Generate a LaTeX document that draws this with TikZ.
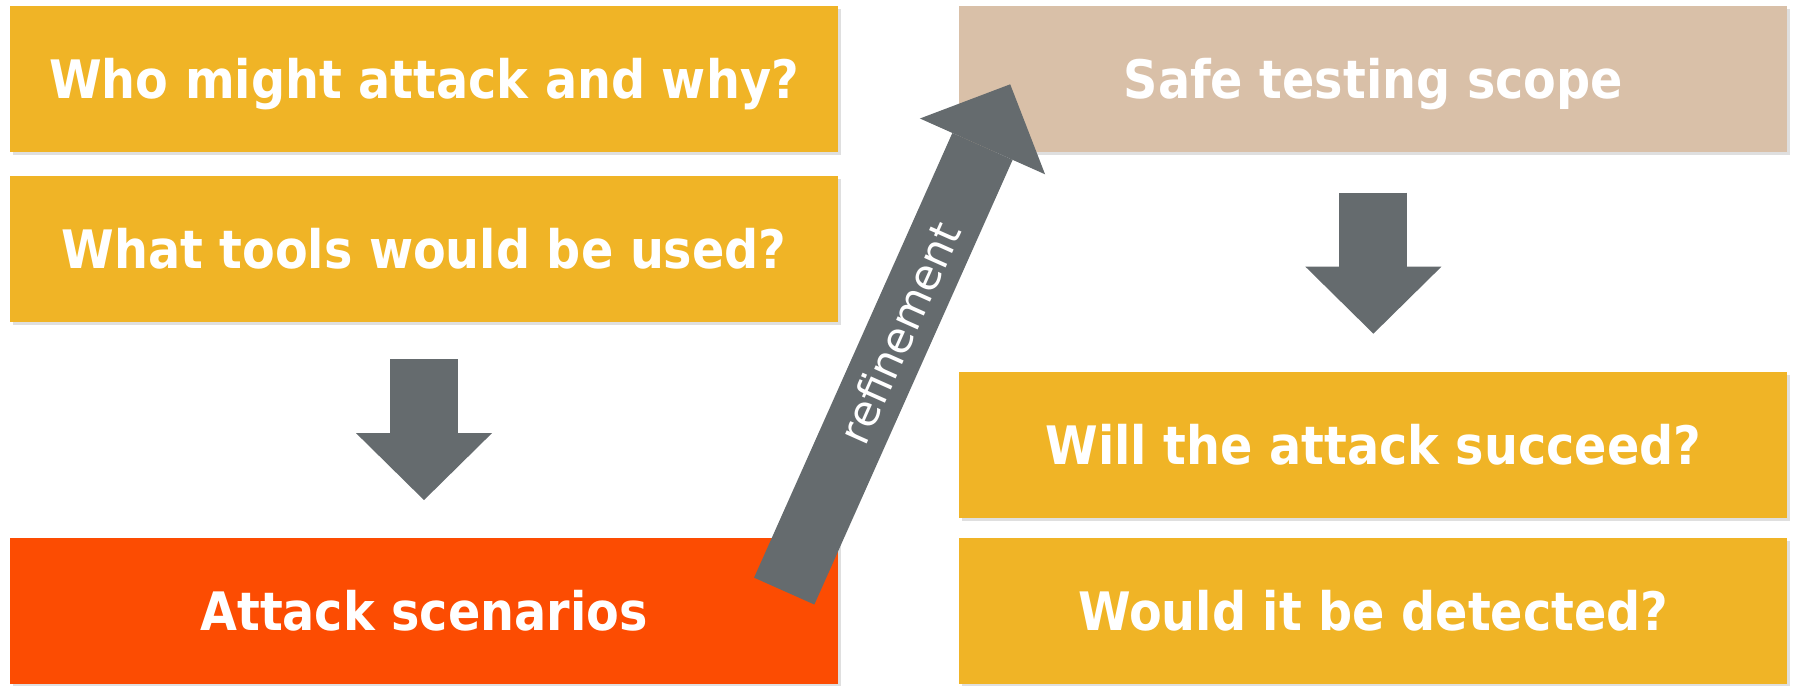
\documentclass[tikz,border=0pt]{standalone}
\usepackage{fontspec}
\setmainfont{DejaVu Sans Condensed}
\newfontfamily\loopfont{DejaVu Sans}
\usepackage{tikz}
\usetikzlibrary{positioning, shadows, arrows.meta}
\definecolor{askyellow}{HTML}{F0B426}
\definecolor{scenred}{HTML}{FC4C02}
\definecolor{scopetan}{HTML}{D9C0A8}
\definecolor{flowgrey}{HTML}{656B6E}
\tikzset{
  qbox/.style={fill=askyellow, text=white,
    font=\fontsize{53}{60}\selectfont\bfseries,
    minimum width=828pt, minimum height=146pt,
    text height=39pt, text depth=0pt,
    drop shadow={shadow xshift=3pt, shadow yshift=-3pt, opacity=0.25}},
  bigarrow/.style={draw=flowgrey, line width=68pt,
    -{Triangle[length=67pt, width=136pt, line width'=0pt]}},
}

\begin{document}
\begin{tikzpicture}[x=1pt, y=1pt]
  \useasboundingbox (0,0) rectangle (1795,685);

  % left column
  \node [qbox] (who) at (424,605.5) {Who might attack and why?};
  \node [qbox, below=23pt of who] (tools) {What tools would be used?};
  \node [qbox, fill=scenred, below=216pt of tools] (scen) {Attack scenarios};

  % right column
  \node [qbox, fill=scopetan, right=121pt of who] (scope) {Safe testing scope};
  \node [qbox, below=219pt of scope] (succeed) {Will the attack succeed?};
  \node [qbox, below=20pt of succeed] (detect) {Would it be detected?};

  \draw [bigarrow, shorten <=37pt, shorten >=38pt] (tools.south) -- (scen.north);
  \draw [bigarrow, shorten <=40pt, shorten >=38pt] (scope.south) -- (succeed.north);

  % refinement loop
  \coordinate [below left=53pt and 54pt of scen.north east] (rtail);
  \coordinate [below right=78pt and 51pt of scope.north west] (rtip);
  \draw [bigarrow, line width=66pt,
         -{Triangle[length=68pt, width=137pt, line width'=0pt]}]
    (rtail) -- node [sloped, pos=0.51, text=white,
                     font=\loopfont\fontsize{43}{50}\selectfont] {refinement} (rtip);
\end{tikzpicture}
\end{document}
